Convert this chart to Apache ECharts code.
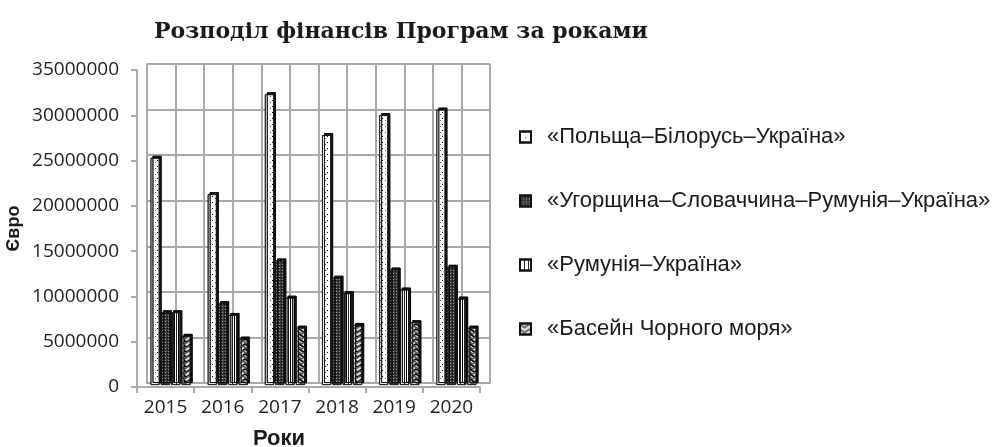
<!DOCTYPE html>
<html>
<head>
<meta charset="utf-8">
<script src="https://cdn.jsdelivr.net/npm/echarts@6/dist/echarts.min.js"></script>
<style>
  html, body { margin: 0; padding: 0; background: #fff; }
  #main { width: 997px; height: 447px; }
</style>
</head>
<body>
<div id="main"></div>
<script>
// дані з графіка (євро)
var years = ['2015', '2016', '2017', '2018', '2019', '2020'];
var seriesNames = [
    '«Польща–Білорусь–Україна»',
    '«Угорщина–Словаччина–Румунія–Україна»',
    '«Румунія–Україна»',
    '«Басейн Чорного моря»'
];
var polandBelarus = [25000000, 21000000, 32000000, 27500000, 29700000, 30300000];
var hungarySlovakia = [8000000, 9000000, 13700000, 11800000, 12700000, 13000000];
var romaniaUkraine = [8000000, 7700000, 9600000, 10100000, 10500000, 9500000];
var blackSea = [5400000, 5100000, 6300000, 6600000, 6900000, 6300000];
var yTicks = [0, 5000000, 10000000, 15000000, 20000000, 25000000, 30000000, 35000000];

// половинки категорій для сітки задньої стінки
var wallCols = [];
for (var i = 0; i < years.length * 2; i++) wallCols.push(String(i));

var gray = '#a9a9a9';
var myChart = echarts.init(document.getElementById('main'));

function barSeries(name, data, color, decal) {
    return {
        name: name,
        type: 'bar',
        xAxisIndex: 2,
        yAxisIndex: 2,
        data: data,
        barWidth: 9,
        barGap: '15%',
        itemStyle: {
            color: color,
            borderColor: '#111',
            borderWidth: 0.8,
            shadowColor: '#1a1a1a',
            shadowOffsetX: 2,
            shadowOffsetY: -2,
            shadowBlur: 0,
            decal: decal
        }
    };
}

option = {
    animation: false,
    title: [
        {
            text: 'Розподіл фінансів Програм за роками',
            left: 396,
            top: 16,
            textAlign: 'center',
            textStyle: { fontFamily: 'DejaVu Serif', fontWeight: 'bold', fontSize: 22, color: '#1a1a1a' }
        },
        {
            text: 'Роки',
            left: 274,
            top: 423,
            textAlign: 'center',
            textStyle: { fontFamily: 'Liberation Sans', fontWeight: 'bold', fontSize: 22, color: '#1a1a1a' }
        }
    ],
    legend: {
        orient: 'vertical',
        left: 514,
        top: 121,
        itemWidth: 11,
        itemHeight: 11,
        itemGap: 42,
        icon: 'rect',
        data: seriesNames,
        textStyle: { fontFamily: 'Liberation Sans', fontSize: 22, color: '#1a1a1a', padding: [0, 0, 0, 11] }
    },
    grid: [
        { left: 137, right: 517, top: 70, bottom: 60 },   // передні осі
        { left: 147, right: 507, top: 64, bottom: 64 },   // задня стінка
        { left: 142, right: 512, top: 67, bottom: 62 }    // стовпці
    ],
    xAxis: [
        {
            gridIndex: 0,
            type: 'category',
            data: years,
            axisLine: { lineStyle: { color: gray, width: 2 } },
            axisTick: { show: true, length: 6, lineStyle: { color: gray, width: 2 } },
            axisLabel: { fontFamily: 'Open Sans', fontSize: 19, color: '#222', margin: 11 },
            splitLine: { show: false }
        },
        {
            gridIndex: 1,
            type: 'category',
            data: wallCols,
            axisLine: { show: true, lineStyle: { color: gray, width: 2 } },
            axisTick: { show: false },
            axisLabel: { show: false },
            splitLine: { show: true, interval: 0, lineStyle: { color: gray, width: 2 } }
        },
        {
            gridIndex: 2,
            type: 'category',
            data: years,
            show: false
        }
    ],
    yAxis: [
        {
            gridIndex: 0,
            type: 'value',
            min: yTicks[0],
            max: yTicks[yTicks.length - 1],
            interval: 5000000,
            name: 'Євро',
            nameLocation: 'middle',
            nameRotate: 90,
            nameGap: 114,
            nameTextStyle: { fontFamily: 'Liberation Sans', fontWeight: 'bold', fontSize: 18, color: '#1a1a1a' },
            axisLine: { show: true, lineStyle: { color: gray, width: 2 } },
            axisTick: { show: true, length: 6, lineStyle: { color: gray, width: 2 } },
            axisLabel: {
                fontFamily: 'Open Sans', fontSize: 19, color: '#222', margin: 18,
                formatter: function (v) { return String(v); }
            },
            splitLine: { show: false }
        },
        {
            gridIndex: 1,
            type: 'value',
            min: yTicks[0],
            max: yTicks[yTicks.length - 1],
            interval: 5000000,
            axisLine: { show: true, lineStyle: { color: gray, width: 2 } },
            axisTick: { show: false },
            axisLabel: { show: false },
            splitLine: { show: true, lineStyle: { color: gray, width: 2 } }
        },
        {
            gridIndex: 2,
            type: 'value',
            min: yTicks[0],
            max: yTicks[yTicks.length - 1],
            show: false
        }
    ],
    series: [
        barSeries(seriesNames[0], polandBelarus, '#ffffff',
            { symbol: 'rect', symbolSize: 1, dashArrayX: [1, 4], dashArrayY: [1, 5], color: '#555' }),
        barSeries(seriesNames[1], hungarySlovakia, '#3a3a3a',
            { symbol: 'rect', symbolSize: 1, dashArrayX: [1, 2], dashArrayY: [1, 2], color: '#9a9a9a' }),
        barSeries(seriesNames[2], romaniaUkraine, '#ffffff',
            { symbol: 'rect', symbolSize: 1, dashArrayX: [1, 2.5], dashArrayY: [4, 0], color: '#222' }),
        barSeries(seriesNames[3], blackSea, '#e4e4e4',
            { symbol: 'path://M0,0L5,3L10,0L10,2L5,5L0,2Z', symbolSize: 1, symbolKeepAspect: false,
              dashArrayX: [9, 0], dashArrayY: [5, 0], color: '#555' })
    ]
};

myChart.setOption(option);
</script>
</body>
</html>
